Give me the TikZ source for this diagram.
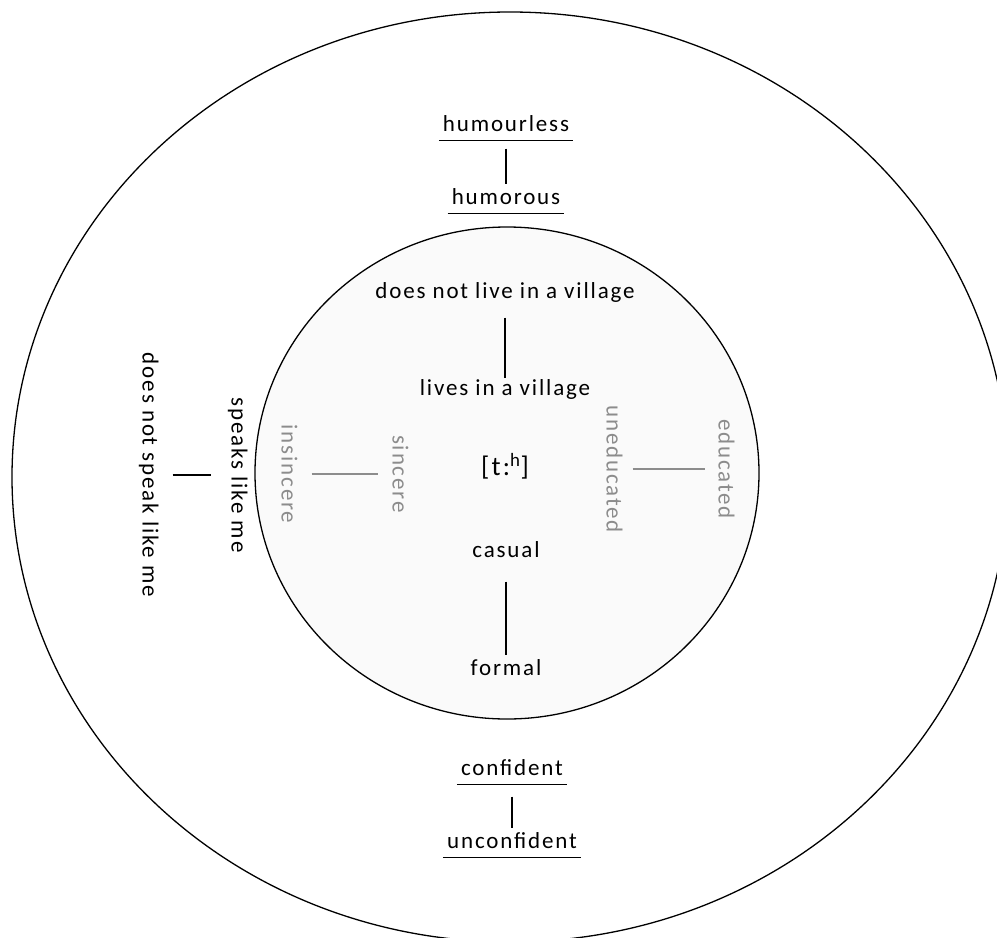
\documentclass[tikz,border=0pt]{standalone}
\usepackage{fontspec}
\newfontfamily\lblfont[LetterSpace=8]{Carlito}
\definecolor{softgray}{HTML}{8C8C8C}
\definecolor{discfill}{HTML}{FAFAFA}
\tikzset{
  lbl/.style={font=\lblfont\fontsize{23}{27}\selectfont, inner sep=0pt, text height=15pt, text depth=4pt},
  ul/.style={lbl, inner xsep=4pt, inner ysep=5pt},
  pale/.style={lbl, text=softgray},
  link/.style={line width=1.3pt},
  palelink/.style={line width=1.3pt, draw=softgray},
}
\begin{document}
\begin{tikzpicture}[x=1pt,y=-1pt,join=round] % attitude rings
        \clip (0,0) rectangle (997,938);
        \draw[line width=1.3pt] (510,477) ellipse (498 and 465);
        \filldraw[fill=discfill,line width=1.3pt] (507,473) ellipse (252 and 246);
        % outer ring
        \node[ul] (hless) at (506,126) {humourless};
        \node[ul] (hous) at (506,199) {humorous};
        \node[ul] (conf) at (512,770) {confident};
        \node[ul] (unconf) at (512,843) {unconfident};
        \node[lbl,rotate=-90] (nospeak) at (148,475) {does not speak like me};
        \node[lbl,rotate=-90] (speak) at (237,475) {speaks like me};
        % inner disc
        \node[lbl] (novil) at (505,293) {does not live in a village};
        \node[lbl] (vil) at (505,390) {lives in a village};
        \node[lbl,font=\lblfont\fontsize{27}{31}\selectfont] (tee) at (505,470) {[t:\textsuperscript{h}]};
        \node[lbl] (cas) at (506,552) {casual};
        \node[lbl] (form) at (506,670) {formal};
        \node[pale,rotate=-90] (insinc) at (287,474) {insincere};
        \node[pale,rotate=-90] (sinc) at (398,474) {sincere};
        \node[pale,rotate=-90] (unedu) at (612,469) {uneducated};
        \node[pale,rotate=-90] (edu) at (724,469) {educated};
        \foreach \n in {hless,hous,conf,unconf}
                \draw[link] (\n.south west) -- (\n.south east);
        \draw[link,shorten <=8pt] (hless) -- (hous);
        \draw[link,shorten <=12pt] (conf) -- (unconf);
        \draw[link,shorten <=15pt,shorten >=16pt] (nospeak) -- (speak);
        \draw[link,shorten <=15pt,shorten >=2pt] (novil) -- (vil);
        \draw[link,shorten <=20pt,shorten >=5pt] (cas) -- (form);
        \draw[palelink,shorten <=15pt,shorten >=10pt] (insinc) -- (sinc);
        \draw[palelink,shorten <=11pt,shorten >=9pt] (unedu) -- (edu);
\end{tikzpicture}
\end{document}
